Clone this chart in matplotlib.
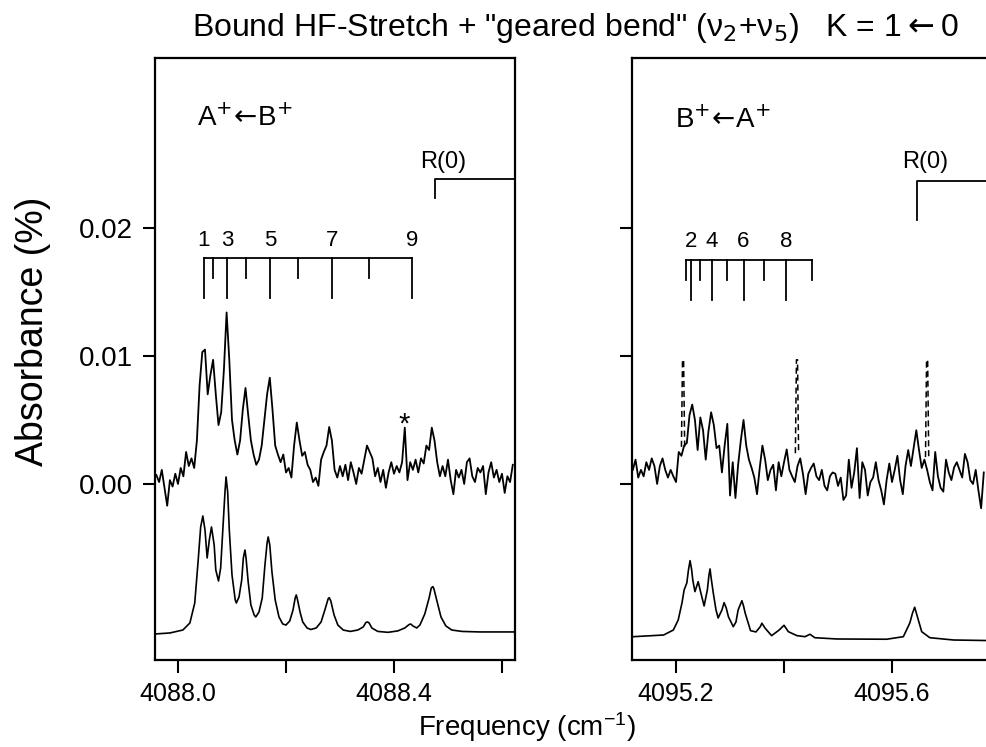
import numpy as np
import matplotlib
matplotlib.use("Agg")
import matplotlib.pyplot as plt

plt.rcParams['font.family'] = ['Liberation Sans', 'DejaVu Sans']
plt.rcParams['mathtext.fontset'] = 'custom'
plt.rcParams['mathtext.rm'] = 'Liberation Sans'
plt.rcParams['mathtext.it'] = 'Liberation Sans:italic'
plt.rcParams['mathtext.bf'] = 'Liberation Sans:bold'

# --- observed spectra (absorbance in units of 1e-3 %), grid step 0.005 cm-1 ---
left_start = 4087.96
right_start = 4095.12
grid_step = 0.005

left_obs = [0.7, 0.15, 1.1, -0.3, -1.7, 0.3, -0.2, 0.8, 0.0, 1.25,
            0.6, 2.5, 1.4, 2.0, 1.25, 3.4, 7.7, 10.3, 10.5, 7.0,
            8.5, 9.7, 7.0, 4.6, 5.6, 8.9, 13.4, 9.7, 5.0, 3.4,
            2.3, 3.4, 5.8, 7.5, 5.4, 3.4, 2.3, 1.5, 1.9, 3.0,
            5.0, 7.0, 8.3, 5.8, 3.0, 2.3, 1.7, 2.3, 0.9, 1.25,
            0.5, 3.0, 4.8, 3.4, 2.2, 2.5, 1.5, 1.1, 0.15, 0.5,
            -0.15, 1.9, 2.5, 3.0, 4.45, 3.4, 1.1, 0.5, 1.4, 0.6,
            1.5, 0.3, 1.7, 0.9, 0.0, 1.25, 0.8, 1.9, 3.0, 2.5,
            2.0, 0.6, 1.25, 0.15, 1.1, -0.3, 0.9, 1.7, 0.8, 1.4,
            0.9, 1.7, 4.4, 0.3, 1.7, 1.1, 1.9, 0.9, 2.0, 1.6,
            3.0, 2.65, 4.4, 3.4, 1.7, 0.6, 1.4, 0.6, 1.9, 0.3,
            -0.8, 1.1, 0.5, 1.1, 0.0, 1.7, 2.0, 0.6, 0.15, 1.25,
            0.9, 1.4, -0.8, 0.9, 1.7, 0.5, 1.1, 0.15, 0.8, -0.7,
            0.6, 0.15, 1.5]

right_obs = [1.1, 1.9, 0.5, 1.1, 0.6, 1.7, 1.1, 2.0, 1.4, 0.0,
             1.4, 2.0, 1.1, 0.5, 1.1, 0.6, 0.15, 2.5, 2.2, 3.0,
             3.2, 5.4, 6.2, 5.0, 2.65, 5.2, 4.2, 1.9, 4.1, 5.6,
             4.6, 2.8, 3.0, 0.9, 3.0, 4.7, -0.9, 1.7, -1.1, 1.5,
             3.4, 5.0, 3.0, 1.9, 1.25, 0.5, -0.8, 1.25, 3.0, 1.9,
             0.3, 1.1, 1.5, -0.5, 1.7, 0.6, 1.7, 2.7, 1.1, 0.6,
             0.15, 1.4, 2.0, 0.8, -0.8, 0.8, 1.25, 1.6, 0.6, 0.3,
             1.1, -0.15, -0.5, 0.6, 0.9, 0.8, -0.15, 0.5, -1.25, -0.9,
             1.9, -0.3, 0.9, 2.8, -1.1, 1.7, 1.1, -0.9, 0.15, 0.5,
             1.7, 0.3, -0.5, -1.6, 0.3, 1.6, 0.15, 1.1, 2.2, 0.3,
             -0.8, 1.4, 2.65, 1.4, 2.8, 4.2, 2.65, 1.25, 1.9, 1.1,
             0.15, -0.5, 2.5, 0.6, -0.3, -0.6, 1.9, 0.9, 0.3, 1.3,
             1.7, 1.1, 0.5, 2.35, 1.7, 0.3, 0.0, 1.1, -0.5, -1.9,
             0.9]

# --- simulated spectra (offset below the data), absorbance in 1e-3 % ---
left_sim_f = [4087.957, 4087.985, 4088.009, 4088.022, 4088.031, 4088.037, 4088.042, 4088.046,
              4088.050, 4088.054, 4088.058, 4088.062, 4088.067, 4088.070, 4088.075, 4088.079,
              4088.083, 4088.087, 4088.089, 4088.092, 4088.095, 4088.100, 4088.106, 4088.108,
              4088.113, 4088.118, 4088.121, 4088.124, 4088.126, 4088.130, 4088.135, 4088.141,
              4088.144, 4088.150, 4088.156, 4088.161, 4088.165, 4088.167, 4088.170, 4088.174,
              4088.180, 4088.187, 4088.194, 4088.200, 4088.207, 4088.213, 4088.217, 4088.219,
              4088.221, 4088.226, 4088.231, 4088.239, 4088.246, 4088.256, 4088.265, 4088.272,
              4088.278, 4088.280, 4088.283, 4088.289, 4088.296, 4088.306, 4088.319, 4088.333,
              4088.343, 4088.348, 4088.351, 4088.354, 4088.359, 4088.370, 4088.389, 4088.407,
              4088.420, 4088.428, 4088.431, 4088.435, 4088.442, 4088.448, 4088.457, 4088.465,
              4088.469, 4088.472, 4088.474, 4088.480, 4088.487, 4088.496, 4088.507, 4088.526,
              4088.559, 4088.624]
left_sim_a = [-11.72, -11.64, -11.41, -10.86, -9.30, -6.17, -3.36, -2.50,
              -3.59, -5.78, -4.38, -3.36, -4.77, -6.72, -7.58, -6.56,
              -3.59, -0.63, 0.55, -0.63, -3.59, -7.11, -9.06, -9.30,
              -8.83, -7.50, -5.78, -5.16, -5.78, -7.66, -9.45, -10.23,
              -10.39, -10.00, -8.91, -6.33, -4.61, -4.14, -4.77, -6.88,
              -9.06, -10.39, -10.94, -11.02, -10.70, -9.84, -8.91, -8.67,
              -8.98, -10.00, -10.78, -11.25, -11.37, -11.25, -10.78, -9.84,
              -8.98, -8.88, -9.14, -10.23, -11.02, -11.41, -11.52, -11.41,
              -11.17, -10.82, -10.78, -10.86, -11.25, -11.52, -11.59, -11.48,
              -11.25, -10.98, -10.94, -11.09, -11.25, -11.02, -10.16, -8.91,
              -8.13, -8.02, -8.20, -9.22, -10.39, -11.09, -11.41, -11.52,
              -11.56, -11.56]

right_sim_f = [4095.121, 4095.177, 4095.195, 4095.204, 4095.211, 4095.215, 4095.220, 4095.223,
               4095.226, 4095.229, 4095.231, 4095.235, 4095.239, 4095.241, 4095.246, 4095.252,
               4095.258, 4095.261, 4095.263, 4095.265, 4095.269, 4095.274, 4095.278, 4095.285,
               4095.289, 4095.293, 4095.297, 4095.306, 4095.311, 4095.315, 4095.322, 4095.325,
               4095.328, 4095.338, 4095.348, 4095.356, 4095.359, 4095.365, 4095.377, 4095.391,
               4095.400, 4095.408, 4095.424, 4095.439, 4095.448, 4095.457, 4095.498, 4095.590,
               4095.621, 4095.633, 4095.638, 4095.642, 4095.647, 4095.655, 4095.670, 4095.714,
               4095.790]
right_sim_a = [-11.93, -11.80, -11.41, -10.63, -9.30, -8.28, -7.73, -6.72,
               -5.99, -6.72, -7.50, -8.41, -7.89, -7.63, -8.52, -9.53,
               -8.28, -7.11, -6.64, -7.34, -8.52, -9.84, -10.47, -9.84,
               -9.27, -9.69, -10.37, -11.15, -10.78, -9.84, -9.12, -9.53,
               -10.08, -11.46, -11.56, -11.15, -10.88, -11.27, -11.85, -11.41,
               -11.04, -11.54, -11.85, -11.93, -11.74, -12.01, -12.11, -12.13,
               -11.93, -10.86, -10.08, -9.63, -10.37, -11.54, -12.01, -12.19,
               -12.24]

# --- assignment combs ---
left_comb = [4088.048, 4088.065, 4088.091, 4088.126, 4088.170, 4088.223, 4088.285, 4088.354, 4088.434]
left_comb_labels = ['1', '', '3', '', '5', '', '7', '', '9']
right_comb = [4095.219, 4095.228, 4095.244, 4095.266, 4095.294, 4095.325, 4095.362, 4095.404, 4095.451]
right_comb_labels = ['', '2', '', '4', '', '6', '', '8', '']

left_r0 = 4088.476
right_r0 = 4095.646

# dashed artifact spikes in the right trace
spike_centers = [4095.213, 4095.424, 4095.665]
spike_tops = [0.0097, 0.0097, 0.0097]
spike_bottoms = [0.0029, 0.0024, 0.0021]

star_freq = 4088.4185

YLIM = (-0.01375, 0.03328)

fig = plt.figure(figsize=(9.86, 7.47), dpi=100)
ax1 = fig.add_axes([0.1572, 0.1165, 0.3651, 0.8059])
ax2 = fig.add_axes([0.6410, 0.1165, 0.3651, 0.8059])


def draw_comb(ax, freqs, labels, first_long, y_bar, y_long, y_short, y_lab):
    ax.plot([freqs[0], freqs[-1]], [y_bar, y_bar], color='black', lw=1.3)
    for i, (f, lab) in enumerate(zip(freqs, labels)):
        long = (i % 2 == 0) == first_long
        ax.plot([f, f], [y_bar, y_long if long else y_short], color='black', lw=1.3)
        if lab:
            ax.text(f, y_lab, lab, ha='center', va='bottom', fontsize=16)


for ax in (ax1, ax2):
    for sp in ax.spines.values():
        sp.set_linewidth(1.6)
    ax.set_ylim(*YLIM)
    ax.set_yticks([0.0, 0.01, 0.02])
    ax.tick_params(direction='out', length=9, width=1.5, pad=7)
    ax.tick_params(axis='x', labelsize=18)
    ax.tick_params(axis='y', labelsize=20)

# left panel
lf = left_start + grid_step * np.arange(len(left_obs))
ax1.plot(lf, np.array(left_obs) * 1e-3, color='black', lw=1.3)
ax1.plot(left_sim_f, np.array(left_sim_a) * 1e-3, color='black', lw=1.2)
ax1.set_xlim(4087.95741, 4088.62407)
ax1.set_xticks([4088.0, 4088.2, 4088.4, 4088.6])
ax1.set_xticklabels(['4088.0', '', '4088.4', ''])
ax1.set_yticklabels(['0.00', '0.01', '0.02'])
draw_comb(ax1, left_comb, left_comb_labels, True, 0.01766, 0.01453, 0.01609, 0.0182)
ax1.plot([left_r0, left_r0, 4088.62407], [0.02234, 0.02383, 0.02383], color='black', lw=1.3)
ax1.text(4088.491, 0.0243, 'R(0)', ha='center', va='bottom', fontsize=17)
ax1.text(star_freq, 0.0040, '*', ha='center', va='baseline', fontsize=21)
ax1.text(4088.035, 0.0286, r'A$^{+}\!\leftarrow\!$B$^{+}$', ha='left', va='center',
         fontsize=20, math_fontfamily='dejavusans')

# right panel
rf = right_start + grid_step * np.arange(len(right_obs))
ax2.plot(rf, np.array(right_obs) * 1e-3, color='black', lw=1.3)
ax2.plot(right_sim_f, np.array(right_sim_a) * 1e-3, color='black', lw=1.2)
for c, t, b in zip(spike_centers, spike_tops, spike_bottoms):
    ax2.plot([c - 0.003, c - 0.001, c + 0.001, c + 0.003], [b, t, t, b],
             color='black', lw=1.1, linestyle=(0, (4, 2.5)))
ax2.set_xlim(4095.1185, 4095.7852)
ax2.set_xticks([4095.2, 4095.4, 4095.6])
ax2.set_xticklabels(['4095.2', '', '4095.6'])
ax2.tick_params(labelleft=False)
draw_comb(ax2, right_comb, right_comb_labels, False, 0.0175, 0.01438, 0.0159, 0.0181)
ax2.plot([right_r0, right_r0, 4095.7852], [0.02063, 0.02367, 0.02367], color='black', lw=1.3)
ax2.text(4095.661, 0.0243, 'R(0)', ha='center', va='bottom', fontsize=17)
ax2.text(4095.198, 0.02844, r'B$^{+}\!\leftarrow\!$A$^{+}$', ha='left', va='center',
         fontsize=20, math_fontfamily='dejavusans')

fig.text(0.584, 0.962, r'Bound HF-Stretch + "geared bend" (ν$_2$+ν$_5$)   K = 1$\leftarrow$0',
         ha='center', va='center', fontsize=23, math_fontfamily='dejavusans')
fig.text(0.033, 0.556, 'Absorbance (%)', rotation=90, ha='center', va='center', fontsize=27)
fig.text(0.534, 0.027, 'Frequency (cm$^{-1}$)', ha='center', va='center', fontsize=20)

fig.savefig('out.png', dpi=100)
